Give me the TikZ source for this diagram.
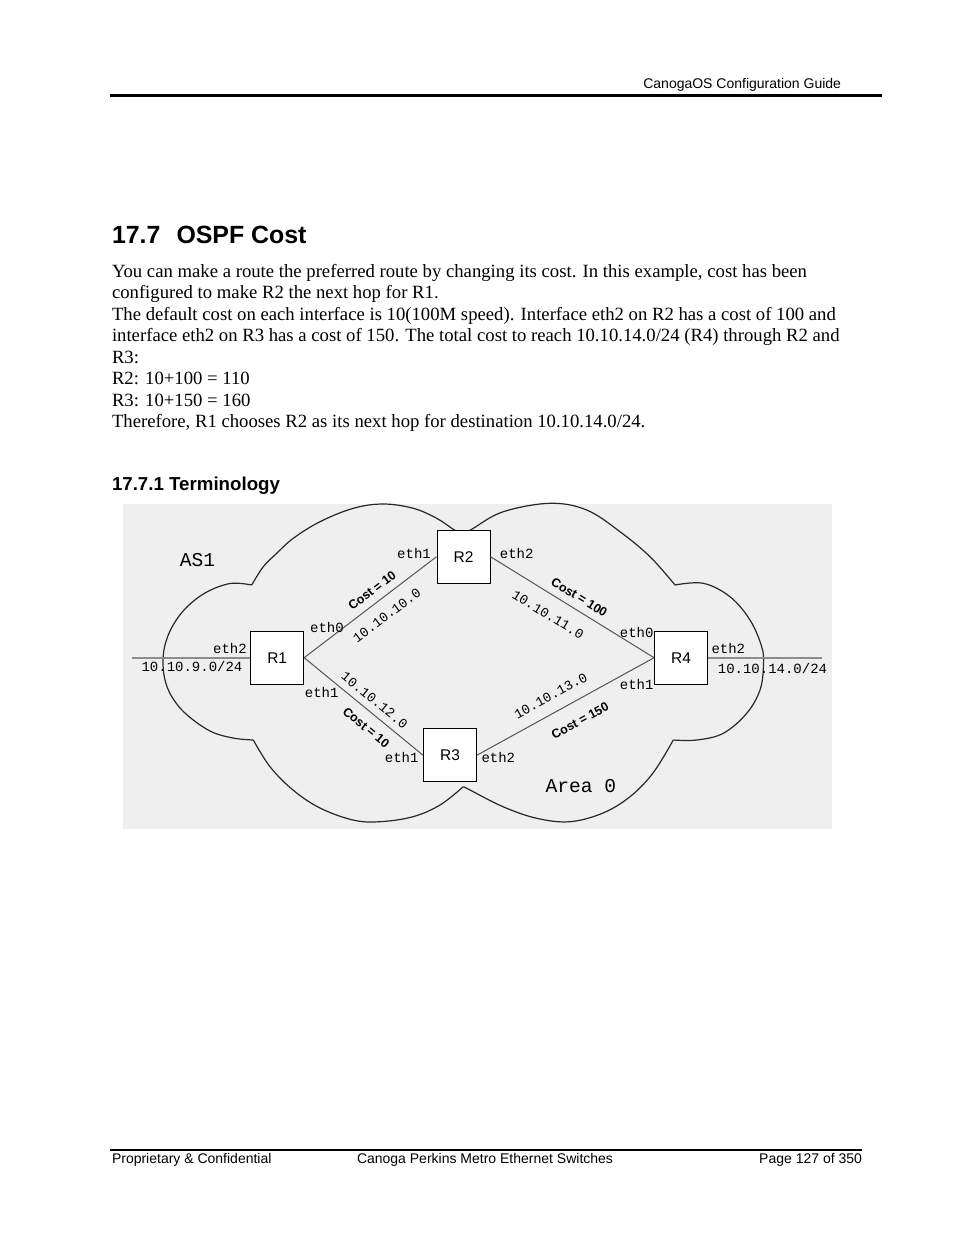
\documentclass[tikz,border=0pt]{standalone}
\usepackage{fontspec}
\setmainfont{Liberation Serif}
\newfontfamily\arialf{Liberation Sans}
\newfontfamily\monof{Liberation Mono}
\definecolor{bggray}{RGB}{239,239,239}
\definecolor{linkgray}{RGB}{85,85,85}
\definecolor{stubgray}{RGB}{140,140,140}
\definecolor{cloudgray}{RGB}{40,40,40}
\begin{document}
\begin{tikzpicture}[x=1pt,y=-1pt,
  txt/.style={inner sep=0pt, outer sep=0pt},
  body/.style={txt, anchor=base west, font=\fontsize{18.7}{21.5}\selectfont},
  pagesans/.style={txt, font=\arialf\fontsize{14}{16}\selectfont},
  router/.style={draw=black, line width=0.9pt, fill=white, minimum width=53pt, minimum height=53pt, inner sep=0pt, font=\arialf\fontsize{15.5}{18}\selectfont},
  iflabel/.style={txt, font=\monof\fontsize{14}{16}\selectfont},
  netlabel/.style={txt, font=\monof\fontsize{13.5}{16}\selectfont},
  costlabel/.style={txt, font=\arialf\bfseries\fontsize{12.5}{15}\selectfont},
  arealabel/.style={txt, font=\monof\fontsize{19.6}{22}\selectfont},
  link/.style={draw=linkgray, line width=1pt},
  stub/.style={draw=stubgray, line width=2pt},
  cloudline/.style={draw=cloudgray, line width=1.2pt},
  rule/.style={draw=black, line width=2.8pt}
]
\useasboundingbox (0,0) rectangle (954,1235);
\fill[white] (0,0) rectangle (954,1235);

% header and footer
\node[pagesans, anchor=base east] (hdr) at (841,88.3) {CanogaOS Configuration Guide};
\coordinate (hrA) at (110,95.5);
\coordinate (hrB) at (882,95.5);
\draw[rule] (hrA) -- (hrB);
\coordinate (frA) at (110,1150);
\coordinate (frB) at (862,1150);
\draw[rule] (frA) -- (frB);
\node[pagesans, anchor=base west] (ft1) at (112,1163.3) {Proprietary \& Confidential};
\node[pagesans, anchor=base west] (ft2) at (357,1163.3) {Canoga Perkins Metro Ethernet Switches};
\node[pagesans, anchor=base east] (ft3) at (862,1163.3) {Page 127 of 350};

% title and body
\node[txt, anchor=base west, font=\arialf\bfseries\fontsize{24.9}{28}\selectfont] (tnum) at (112,243.3) {17.7};
\node[txt, anchor=base west, font=\arialf\bfseries\fontsize{24.9}{28}\selectfont] (ttl) at (176.5,243.3) {OSPF Cost};
\node[body] (b1) at (112,277.3) {You can make a route the preferred route by changing its cost. In this example, cost has been};
\node[body] (b2) at (112,298.8) {configured to make R2 the next hop for R1.};
\node[body] (b3) at (112,320.3) {The default cost on each interface is 10(100M speed). Interface eth2 on R2 has a cost of 100 and};
\node[body] (b4) at (112,341.8) {interface eth2 on R3 has a cost of 150. The total cost to reach 10.10.14.0/24 (R4) through R2 and};
\node[body] (b5) at (112,363.3) {R3:};
\node[body] (b6) at (112,384.8) {R2: 10+100 = 110};
\node[body] (b7) at (112,406.3) {R3: 10+150 = 160};
\node[body] (b8) at (112,427.8) {Therefore, R1 chooses R2 as its next hop for destination 10.10.14.0/24.};
\node[txt, anchor=base west, font=\arialf\bfseries\fontsize{18.7}{21}\selectfont] (sub) at (112,490) {17.7.1 Terminology};

% diagram background
\fill[bggray] (123,504) rectangle (832,829);

% cloud outline
\draw[cloudline] plot[smooth, tension=0.6] coordinates {(251.7,585) (263.3,566.7) (276.7,553.3) (293.3,538.3) (320,521.7) (353.3,508.3) (383.3,504) (413.3,508.3) (436.7,518.3) (453.3,529.3) (463,535)};
\draw[cloudline] plot[smooth, tension=0.6] coordinates {(463,535) (473.3,528.3) (503.3,511.7) (550,503.3) (586.7,510) (620,531.7) (650,556.7) (675,585)};
\draw[cloudline] plot[smooth, tension=0.6] coordinates {(675,585) (703.3,583.3) (730,596.7) (750,620) (761.7,646.7) (763.5,665) (760,690) (746.7,713.3) (723.3,733.3) (696.7,740) (673.3,740)};
\draw[cloudline] plot[smooth, tension=0.6] coordinates {(673.3,740) (653,773) (630,796.7) (603,813) (570,821.7) (536.7,818.3) (503,806.7) (470,790) (463.3,786.7)};
\draw[cloudline] plot[smooth, tension=0.6] coordinates {(463.3,786.7) (440,805) (413,816.7) (380,821.7) (353,820) (320,808) (293,790) (270,766.7) (253.3,740)};
\draw[cloudline] plot[smooth, tension=0.6] coordinates {(253.3,740) (233,738) (210,731) (186,714) (172,697) (165,680) (163,662) (165,645) (172,627) (185,609) (205,593) (230,583.5) (251.7,585)};

% routers
\node[router] (R1) at (277.2,657.7) {R1};
\node[router] (R2) at (463.5,556.7) {R2};
\node[router] (R3) at (450,755.2) {R3};
\node[router] (R4) at (681,657.7) {R4};

% links
\coordinate (lend) at (132,657.7);
\coordinate (rend) at (822,657.7);
\draw[stub] (lend) -- (R1.west);
\draw[stub] (R4.east) -- (rend);
\draw[link] (R1.east) -- (R2.west);
\draw[link] (R1.east) -- (R3.west);
\draw[link] (R2.east) -- (R4.west);
\draw[link] (R3.east) -- (R4.west);

% labels
\node[arealabel] (as1) at (197.5,560.5) {AS1};
\node[arealabel] (area0) at (580.8,786) {Area 0};

\node[iflabel] (r2e1) at (414,553) {eth1};
\node[iflabel] (r2e2) at (516.7,553) {eth2};
\node[iflabel] (r1e0) at (327,627.5) {eth0};
\node[iflabel] (r1e2) at (230,648.5) {eth2};
\node[iflabel] (net9) at (192,666.7) {10.10.9.0/24};
\node[iflabel] (r1e1) at (321.7,692) {eth1};
\node[iflabel] (r3e1) at (401.7,757) {eth1};
\node[iflabel] (r3e2) at (498.3,757) {eth2};
\node[iflabel] (r4e0) at (636.7,632) {eth0};
\node[iflabel] (r4e2) at (728.3,648.5) {eth2};
\node[iflabel] (net14) at (772.5,668) {10.10.14.0/24};
\node[iflabel] (r4e1) at (636.7,684) {eth1};

\node[costlabel, rotate=37] (c12) at (372.1,590.7) {Cost = 10};
\node[netlabel, rotate=37] (n12) at (386.8,615.4) {10.10.10.0};
\node[costlabel, rotate=-31.4] (c24) at (579.3,597.3) {Cost = 100};
\node[netlabel, rotate=-31.4] (n24) at (548,614.7) {10.10.11.0};
\node[netlabel, rotate=-39.3] (n13) at (374.6,700.2) {10.10.12.0};
\node[costlabel, rotate=-39.3] (c13) at (366.2,727.5) {Cost = 10};
\node[netlabel, rotate=28.6] (n34) at (550.7,695.7) {10.10.13.0};
\node[costlabel, rotate=28.6] (c34) at (580,720.8) {Cost = 150};
\end{tikzpicture}
\end{document}
